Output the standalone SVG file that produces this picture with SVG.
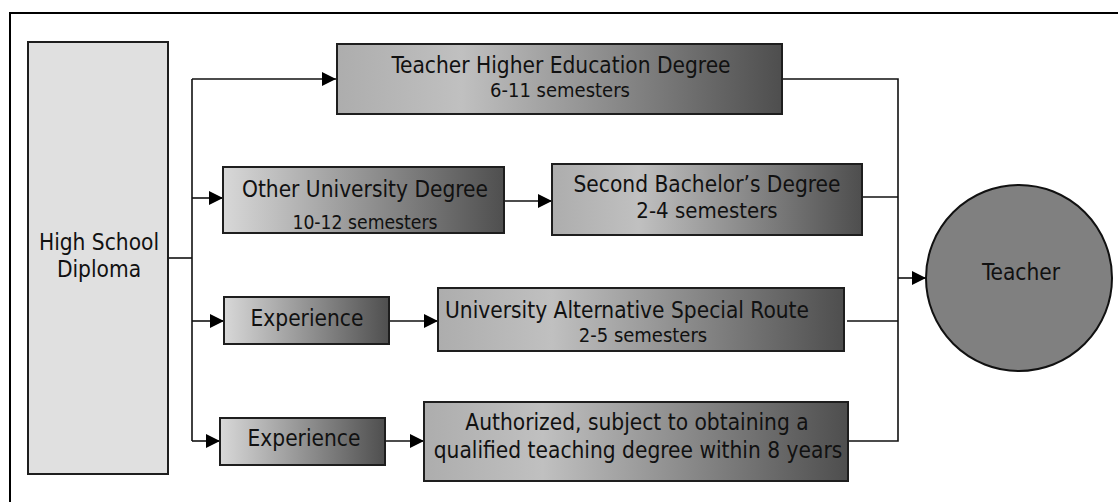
<svg xmlns="http://www.w3.org/2000/svg" width="1118" height="502" viewBox="0 0 1118 502">
  <style>
    text { font-family: "DejaVu Sans Condensed", "DejaVu Sans", sans-serif; font-stretch: condensed; fill: #111; text-anchor: middle; }
    .t { font-size: 22.5px; }
    .s { font-size: 20px; }
    .box { stroke: #1e1e1e; stroke-width: 2; }
    .wire { fill: none; stroke: #111; stroke-width: 1.6; }
  </style>
  <defs>
    <linearGradient id="gSmall" x1="0" y1="0" x2="1" y2="0">
      <stop offset="0" stop-color="#d8d8d8"/>
      <stop offset="1" stop-color="#4f4f4f"/>
    </linearGradient>
    <linearGradient id="gWide" x1="0" y1="0" x2="1" y2="0">
      <stop offset="0" stop-color="#adadad"/>
      <stop offset="0.28" stop-color="#c0c0c0"/>
      <stop offset="1" stop-color="#4e4e4e"/>
    </linearGradient>
    <marker id="arrow" viewBox="0 0 14 14" refX="14" refY="7" markerWidth="14" markerHeight="14" markerUnits="userSpaceOnUse" orient="auto">
      <path d="M0,0 L14,7 L0,14 Z" fill="#000"/>
    </marker>
  </defs>

  <!-- outer frame (top and left rules only) -->
  <path d="M10,502 V13 H1118" fill="none" stroke="#000" stroke-width="2"/>

  <g id="connectors">
    <!-- trunk from the diploma -->
    <path class="wire" d="M168,258 H192"/>
    <path class="wire" d="M192,79 V441"/>
    <path class="wire" d="M192,79 H336" marker-end="url(#arrow)"/>
    <path class="wire" d="M192,198 H223" marker-end="url(#arrow)"/>
    <path class="wire" d="M192,321 H224" marker-end="url(#arrow)"/>
    <path class="wire" d="M192,441 H220" marker-end="url(#arrow)"/>
    <!-- second stages -->
    <path class="wire" d="M501,201 H552" marker-end="url(#arrow)"/>
    <path class="wire" d="M389,321 H438" marker-end="url(#arrow)"/>
    <path class="wire" d="M385,441 H424" marker-end="url(#arrow)"/>
    <!-- collector into the teacher node -->
    <path class="wire" d="M782,79 H898 V441 H848"/>
    <path class="wire" d="M862,197 H898"/>
    <path class="wire" d="M847,321 H898"/>
    <path class="wire" d="M898,278 H926" marker-end="url(#arrow)"/>
  </g>

  <g id="diploma">
    <rect class="box" x="28" y="42" width="140" height="432" fill="#e0e0e0"/>
    <text class="t" x="99" y="250">High School</text>
    <text class="t" x="99" y="277">Diploma</text>
  </g>

  <g id="teacher-degree">
    <rect class="box" x="337" y="44" width="445" height="70" fill="url(#gWide)"/>
    <text class="t" x="561" y="73">Teacher Higher Education Degree</text>
    <text class="s" x="560" y="97">6-11 semesters</text>
  </g>

  <g id="other-degree">
    <rect class="box" x="223" y="167" width="281" height="66" fill="url(#gSmall)"/>
    <text class="t" x="365" y="197">Other University Degree</text>
    <text class="s" x="365" y="229" style="font-size:19.2px">10-12 semesters</text>
  </g>

  <g id="second-bachelor">
    <rect class="box" x="552" y="164" width="310" height="71" fill="url(#gWide)"/>
    <text class="t" x="707" y="192">Second Bachelor’s Degree</text>
    <text class="s" x="707" y="218" style="font-size:22px">2-4 semesters</text>
  </g>

  <g id="experience-1">
    <rect class="box" x="224" y="297" width="165" height="47" fill="url(#gSmall)"/>
    <text class="t" x="307" y="326">Experience</text>
  </g>

  <g id="alternative-route">
    <rect class="box" x="438" y="288" width="406" height="63" fill="url(#gWide)"/>
    <text class="t" x="627" y="318">University Alternative Special Route</text>
    <text class="s" x="643" y="342">2-5 semesters</text>
  </g>

  <g id="experience-2">
    <rect class="box" x="220" y="418" width="165" height="47" fill="url(#gSmall)"/>
    <text class="t" x="304" y="446">Experience</text>
  </g>

  <g id="authorized">
    <rect class="box" x="424" y="402" width="424" height="79" fill="url(#gWide)"/>
    <text class="t" x="637" y="430">Authorized, subject to obtaining a</text>
    <text class="t" x="638" y="458">qualified teaching degree within 8 years</text>
  </g>

  <g id="teacher">
    <circle cx="1019" cy="278" r="93" fill="#808080" stroke="#111" stroke-width="2"/>
    <text class="t" x="1021" y="280">Teacher</text>
  </g>
</svg>
